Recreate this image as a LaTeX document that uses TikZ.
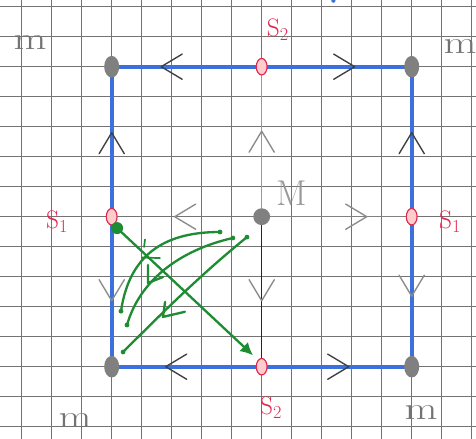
\documentclass[tikz,border=0pt]{standalone}
\usepackage{graphicx}
\usetikzlibrary{decorations.markings,arrows.meta,shapes.geometric}
\definecolor{penblue}{RGB}{60,112,220}
\definecolor{pengreen}{RGB}{30,140,50}
\definecolor{penred}{RGB}{225,40,80}
\tikzset{
  gridline/.style={black!55, line width=0.9pt},
  edgeblue/.style={penblue, line width=3.6pt, line cap=round},
  crossline/.style={line width=1.3pt, line cap=round},
  chevdark/.style={postaction={decorate}, decoration={markings, mark=at position #1 with {\draw[black!75, line width=1.3pt, line cap=round, line join=round] (-0.7,0.42) -- (0,0) -- (-0.7,-0.42);}}},
  chevlight/.style={postaction={decorate}, decoration={markings, mark=at position #1 with {\draw[black!45, line width=1.3pt, line cap=round, line join=round] (-0.7,0.42) -- (0,0) -- (-0.7,-0.42);}}},
  minblob/.style={ellipse, fill=black!50, inner sep=0pt, minimum width=0.5cm, minimum height=0.72cm},
  maxblob/.style={circle, fill=black!50, inner sep=0pt, minimum size=0.56cm},
  sblob/.style={ellipse, draw=penred, fill=red!20, line width=1.1pt, inner sep=0pt, minimum width=0.36cm, minimum height=0.55cm},
  greenline/.style={pengreen, line width=2.2pt, line cap=round, line join=round},
  slabel/.style={text=penred, font=\fontsize{24}{28}\selectfont, inner sep=0pt},
  mlabel/.style={text=black!55, font=\fontsize{30}{32}\selectfont, inner sep=0pt},
  bigmlabel/.style={text=black!40, font=\fontsize{34}{36}\selectfont, inner sep=0pt}
}
\begin{document}
\begin{tikzpicture}
\useasboundingbox (-8.723,-7.41) rectangle (7.143,7.223);
\fill[white] (-8.723,-7.41) rectangle (7.143,7.223);
% paper grid (1 cm squares)
\foreach \gx in {-8,...,7} \draw[gridline] (\gx,-7.41) -- (\gx,7.223);
\foreach \gy in {-7,...,7} \draw[gridline] (-8.723,\gy) -- (7.143,\gy);

% critical points
\coordinate (M) at (0,0);
\coordinate (s1l) at (-5,0);
\coordinate (s1r) at (5,0);
\coordinate (s2t) at (0,5);
\coordinate (s2b) at (0,-5);
\coordinate (tl) at (-5,5);
\coordinate (tr) at (5,5);
\coordinate (bl) at (-5,-5);
\coordinate (br) at (5,-5);

% interior cross from the maximum to the saddles
\draw[crossline, black!55, chevlight=0.58] (M) -- (s1l);
\draw[crossline, black!50, chevlight=0.70] (M) -- (s1r);
\draw[crossline, black!40, chevlight=0.57] (M) -- (s2t);
\draw[crossline, black!85, chevlight=0.56] (M) -- (s2b);

% boundary square
\draw[edgeblue, chevdark=0.67] (s2t) -- (tl);
\draw[edgeblue, chevdark=0.62] (s2t) -- (tr);
\draw[edgeblue, chevdark=0.64] (s2b) -- (bl);
\draw[edgeblue, chevdark=0.58] (s2b) -- (br);
\draw[edgeblue, chevdark=0.56] (s1l) -- (tl);
\draw[edgeblue, chevlight=0.56] (s1l) -- (bl);
\draw[edgeblue, chevdark=0.56] (s1r) -- (tr);
\draw[edgeblue, chevlight=0.53] (s1r) -- (br);

% blobs
\node[minblob] (tlb) at (tl) {};
\node[minblob] (trb) at (tr) {};
\node[minblob] (blb) at (bl) {};
\node[minblob] (brb) at (br) {};
\node[maxblob] (Mb) at (M) {};
\node[sblob] (s1lb) at (s1l) {};
\node[sblob] (s1rb) at (s1r) {};
\node[sblob] (s2tb) at (s2t) {};
\node[sblob] (s2bb) at (s2b) {};

% stray blue mark
\fill[penblue] (2.39,7.2) circle (0.07);

% green flow lines
\coordinate (gs) at (-4.82,-0.38);
\coordinate (ge) at (-0.29,-4.62);
\coordinate (a1) at (-1.39,-0.51);
\coordinate (a2) at (-4.69,-3.15);
\coordinate (b1) at (-0.96,-0.71);
\coordinate (b2) at (-4.49,-3.61);
\coordinate (c1) at (-0.49,-0.68);
\coordinate (c2) at (-4.62,-4.51);
\draw[greenline] (a1) .. controls (-3.06,-0.51) and (-4.39,-1.11) .. (a2);
\draw[greenline] (b1) .. controls (-2.72,-1.11) and (-4.06,-2.11) .. (b2);
\draw[greenline] (c1) .. controls (-2.06,-1.95) and (-3.39,-3.28) .. (c2);
\foreach \p in {a1,a2,b1,b2,c1,c2} \fill[pengreen] (\p) circle (0.08);
\draw[greenline, -{Latex[length=0.42cm, width=0.42cm]}] (gs) -- (ge);
\fill[pengreen] (gs) circle (0.2);
% green arrow marks
\draw[greenline] (-3.79,-1.61) -- (-3.79,-2.21) -- (-3.29,-2.01);
\draw[greenline] (-3.22,-2.84) -- (-3.29,-3.34) -- (-2.56,-3.17);
\draw[greenline, line width=1.6pt] (-3.89,-0.76) -- (-3.92,-1.01);
\draw[greenline, line width=1.6pt] (-3.99,-1.36) -- (-3.39,-1.38);

% labels
\node[slabel] (lS2t) at (0.54,6.22) {S$_2$};
\node[slabel] (lS2b) at (0.31,-6.37) {S$_2$};
\node[slabel] (lS1l) at (-6.82,-0.15) {S$_1$};
\node[slabel] (lS1r) at (6.28,-0.15) {S$_1$};
\node[mlabel] (mtl) at (-7.72,5.79) {\scalebox{1.35}[1]{m}};
\node[mlabel] (mtr) at (6.61,5.66) {\scalebox{1.35}[1]{m}};
\node[mlabel] (mbl) at (-6.22,-6.78) {\scalebox{1.35}[1]{m}};
\node[mlabel] (mbr) at (5.31,-6.54) {\scalebox{1.35}[1]{m}};
\node[bigmlabel] (lM) at (1.01,0.78) {M};
\end{tikzpicture}
\end{document}
